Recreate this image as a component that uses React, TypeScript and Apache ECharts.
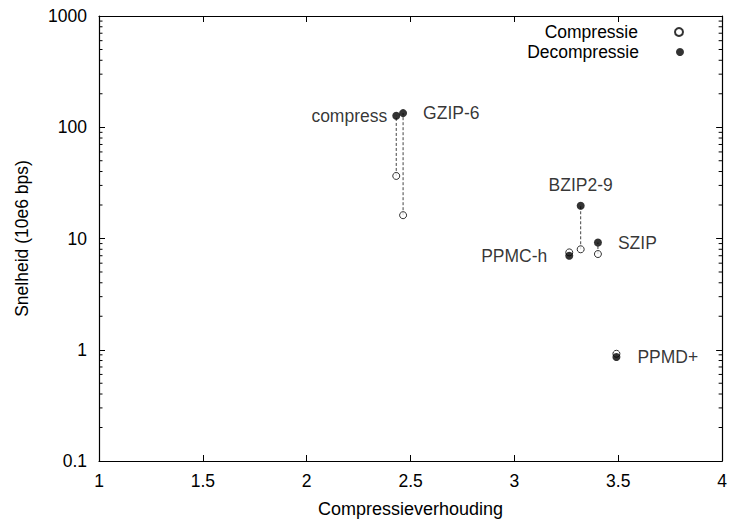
import React, { useEffect, useRef } from "react";
import * as echarts from "echarts";

const programs = ["compress", "GZIP-6", "BZIP2-9", "SZIP", "PPMC-h", "PPMD+"];
const ratio = [2.431, 2.464, 3.319, 3.402, 3.264, 3.491];
const compressSpeed = [36.5, 16.2, 8.0, 7.25, 7.5, 0.92];
const decompressSpeed = [127, 134, 19.7, 9.2, 7.0, 0.86];

const xTicks = [1, 1.5, 2, 2.5, 3, 3.5, 4];
const yDecades = [0.1, 1, 10, 100];
const minorMultipliers = [2, 3, 4, 5, 6, 7, 8, 9];

const labelPlacement = [
  { position: "left", distance: 5 },
  { position: "right", distance: 16 },
  { position: "top", distance: 8 },
  { position: "right", distance: 16 },
  { position: "left", distance: 18 },
  { position: "right", distance: 17 },
];

const FONT = "Liberation Sans, Arial, Helvetica, sans-serif";
const FS = 17.5;

export default function App() {
  const ref = useRef<HTMLDivElement>(null);
  useEffect(() => {
    if (!ref.current) return;
    document.body.style.margin = "0";
    const chart = echarts.init(ref.current, null, { renderer: "svg" });
    const minorTicks: number[][] = [];
    yDecades.forEach((d) => minorMultipliers.forEach((m) => minorTicks.push([1, +(d * m).toPrecision(3)])));

    const axisCommon = {
      axisLine: { show: true, lineStyle: { color: "#000", width: 1.2 } },
      axisTick: { show: true, inside: true, length: 6, lineStyle: { color: "#000", width: 1 } },
      splitLine: { show: false },
    };

    const option: any = {
      animation: false,
      textStyle: { fontFamily: FONT, color: "#000" },
      grid: { left: 99, right: 7, top: 16, bottom: 57, containLabel: false },
      xAxis: [
        {
          type: "value",
          min: xTicks[0],
          max: xTicks[xTicks.length - 1],
          interval: 0.5,
          name: "Compressieverhouding",
          nameLocation: "middle",
          nameGap: 39,
          nameTextStyle: { fontSize: 18, color: "#000", fontFamily: FONT },
          axisLabel: { color: "#000", fontSize: FS, margin: 11, fontFamily: FONT },
          ...axisCommon,
        },
        {
          type: "value",
          position: "top",
          min: xTicks[0],
          max: xTicks[xTicks.length - 1],
          interval: 0.5,
          axisLabel: { show: false },
          ...axisCommon,
        },
      ],
      yAxis: [
        {
          type: "log",
          logBase: 10,
          min: 0.1,
          max: 1000,
          name: "Snelheid (10e6 bps)",
          nameLocation: "middle",
          nameGap: 68,
          nameRotate: 90,
          nameTextStyle: { fontSize: FS, color: "#000", fontFamily: FONT },
          axisLabel: {
            color: "#000",
            fontSize: FS,
            margin: 12,
            fontFamily: FONT,
            formatter: (v: number) => String(+(+v).toPrecision(1)),
          },
          ...axisCommon,
        },
        {
          type: "log",
          logBase: 10,
          min: 0.1,
          max: 1000,
          position: "right",
          axisLabel: { show: false },
          ...axisCommon,
        },
      ],
      legend: [
        {
          data: ["Compressie"],
          right: 41,
          top: 18,
          align: "right",
          itemWidth: 8,
          itemHeight: 8,
          textStyle: { fontSize: FS, color: "#000", fontFamily: FONT, padding: [0, 32, 0, 0] },
        },
        {
          data: ["Decompressie"],
          right: 41,
          top: 38,
          align: "right",
          itemWidth: 8,
          itemHeight: 8,
          textStyle: { fontSize: FS, color: "#000", fontFamily: FONT, padding: [0, 32, 0, 0] },
        },
      ],
      series: [
        {
          type: "custom",
          silent: true,
          xAxisIndex: 0,
          yAxisIndex: 0,
          data: minorTicks,
          encode: { x: 0, y: 1 },
          renderItem: (params: any, api: any) => {
            const y = api.coord([1, api.value(1)])[1];
            const cs = params.coordSys;
            return {
              type: "group",
              children: [
                { type: "line", shape: { x1: cs.x, y1: y, x2: cs.x + 3.5, y2: y }, style: { stroke: "#000", lineWidth: 1 } },
                { type: "line", shape: { x1: cs.x + cs.width - 3.5, y1: y, x2: cs.x + cs.width, y2: y }, style: { stroke: "#000", lineWidth: 1 } },
              ],
            };
          },
        },
        {
          type: "custom",
          silent: true,
          data: programs.map((_, i) => [ratio[i], compressSpeed[i], decompressSpeed[i]]),
          encode: { x: 0, y: [1, 2] },
          renderItem: (params: any, api: any) => {
            const a = api.coord([api.value(0), api.value(1)]);
            const b = api.coord([api.value(0), api.value(2)]);
            return {
              type: "line",
              shape: { x1: a[0], y1: a[1], x2: b[0], y2: b[1] },
              style: { stroke: "#444", lineWidth: 1, lineDash: [3, 2] },
            };
          },
        },
        {
          name: "Compressie",
          type: "scatter",
          symbol: "circle",
          symbolSize: 7,
          itemStyle: { color: "#fff", borderColor: "#000", borderWidth: 1 },
          data: programs.map((_, i) => [ratio[i], compressSpeed[i]]),
          z: 3,
        },
        {
          name: "Decompressie",
          type: "scatter",
          symbol: "circle",
          symbolSize: 8,
          itemStyle: { color: "#000" },
          data: programs.map((p, i) => ({
            value: [ratio[i], decompressSpeed[i]],
            label: {
              show: true,
              formatter: p,
              position: labelPlacement[i].position,
              distance: labelPlacement[i].distance,
              fontSize: FS,
              color: "#000",
              fontFamily: FONT,
            },
          })),
          z: 4,
        },
      ],
    };
    chart.setOption(option);
    return () => chart.dispose();
  }, []);
  return <div ref={ref} style={{ width: 730, height: 523 }} />;
}
